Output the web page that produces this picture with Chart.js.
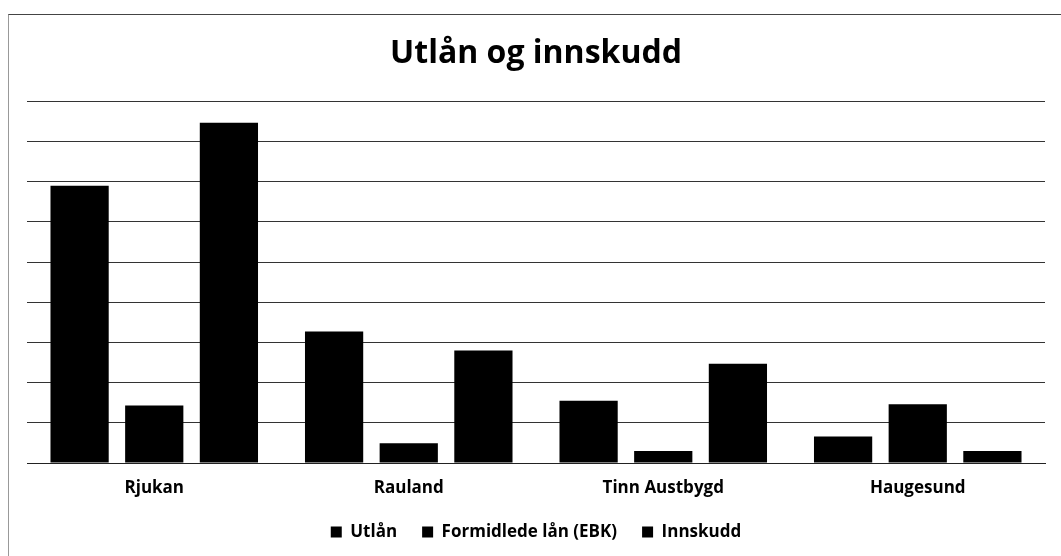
<!DOCTYPE html>
<html>
<head>
<meta charset="utf-8">
<script src="https://cdn.jsdelivr.net/npm/chart.js@4/dist/chart.umd.min.js"></script>
<style>
  html,body{margin:0;padding:0;background:#fff;}
  #wrap{position:relative;width:1061px;height:556px;}
  #frame{position:absolute;left:8px;top:14px;right:0;bottom:0;border-top:1px solid #444;border-left:1px solid #999;pointer-events:none;}
</style>
</head>
<body>
<div id="wrap">
  <div id="frame"></div>
  <canvas id="chart" width="1061" height="556"></canvas>
</div>
<script>
let steder = ['Rjukan','Rauland','Tinn Austbygd','Haugesund'];
let utlan = [690, 327, 155, 66];
let formidlede = [143, 49, 30, 146];
let innskudd = [847, 280, 247, 30];
let yMaks = 900;
let ySteg = 100;

let font = "'Open Sans', 'DejaVu Sans', sans-serif";

new Chart(document.getElementById('chart'),{
  type:'bar',
  data:{
    labels:steder,
    datasets:[
      {label:'Utlån', data:utlan, backgroundColor:'#000'},
      {label:'Formidlede lån (EBK)', data:formidlede, backgroundColor:'#000'},
      {label:'Innskudd', data:innskudd, backgroundColor:'#000'}
    ]
  },
  options:{
    responsive:false,
    animation:false,
    devicePixelRatio:1,
    datasets:{bar:{categoryPercentage:0.88, barPercentage:0.78}},
    layout:{padding:{left:27, right:16, top:0, bottom:5.5}},
    plugins:{
      title:{display:true, text:'Utlån og innskudd', color:'#000',
        font:{family:font, size:32, weight:'bold'}, padding:{top:35, bottom:28}},
      legend:{position:'bottom', labels:{color:'#000', boxWidth:11, boxHeight:11, padding:25,
        font:{family:font, size:17, weight:'bold'}}},
      tooltip:{enabled:false}
    },
    scales:{
      x:{grid:{display:false}, border:{color:'#222', width:1},
        ticks:{color:'#000', padding:6.8, font:{family:font, size:17, weight:'bold'}},
        afterFit:s=>{ s.height = 35.5; }},
      y:{min:0, max:yMaks, ticks:{display:false, stepSize:ySteg},
        border:{display:false}, grid:{color:'#333', lineWidth:1, drawTicks:false}}
    }
  }
});
</script>
</body>
</html>
